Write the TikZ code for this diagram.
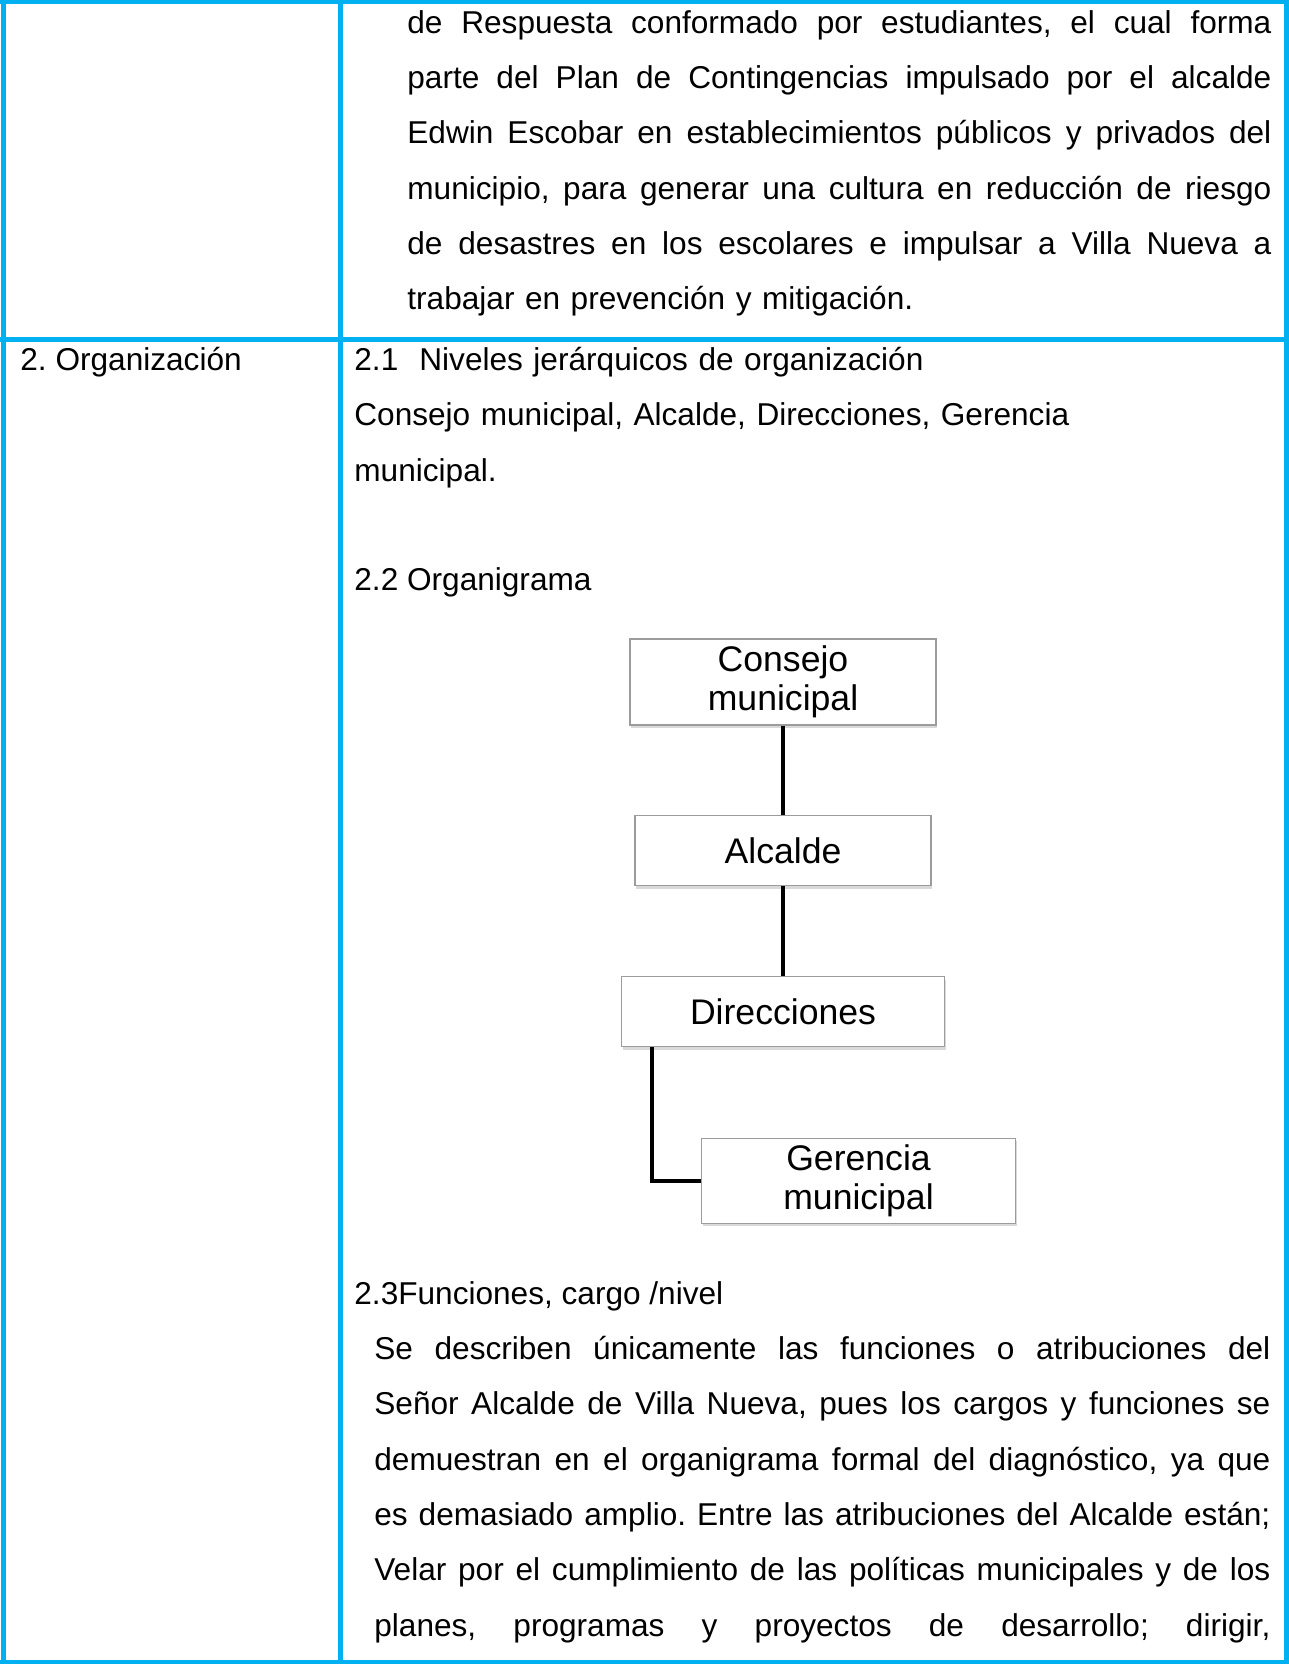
\documentclass[tikz,border=0pt]{standalone}
\usepackage{fontspec}
\setmainfont{Liberation Sans}
\usetikzlibrary{positioning,shadows}
\definecolor{tableblue}{HTML}{00B0F0}
\definecolor{boxgray}{HTML}{9C9C9C}
\frenchspacing
\newcommand{\jline}[2][432pt]{\leavevmode\hbox to #1{\spaceskip=0.278em plus 1fil\relax #2}}

\begin{document}
\begin{tikzpicture}[x=0.5pt,y=-0.5pt,
  grid/.style={tableblue,line width=2.5pt},
  txt/.style={font=\fontsize{15.8}{27.65}\selectfont,inner sep=0pt,anchor=base west,align=left},
  para/.style={txt,text width=#1},
  org box/.style={draw=boxgray,line width=0.6pt,fill=white,inner sep=0pt,align=center,
    font=\fontsize{17.8}{19.6}\selectfont,
    drop shadow={shadow xshift=0.6pt,shadow yshift=-1.6pt,opacity=.3,fill=gray}},
  conn/.style={line width=2pt}]

  \useasboundingbox (0,0) rectangle (1289,1664);

  % table
  \draw[grid] (0,2) -- (1289,2) (0,339) -- (1289,339) (0,1662) -- (1289,1662);
  \draw[grid] (3,0) -- (3,1664) (340,0) -- (340,1664) (1286,0) -- (1286,1664);

  \node[para=432pt] (respuesta) at (407,33.3) {%
    \jline{de Respuesta conformado por estudiantes, el cual forma}\\
    \jline{parte del Plan de Contingencias impulsado por el alcalde}\\
    \jline{Edwin Escobar en establecimientos públicos y privados del}\\
    \jline{municipio, para generar una cultura en reducción de riesgo}\\
    \jline{de desastres en los escolares e impulsar a Villa Nueva a}\\
    trabajar en prevención y mitigación.};

  \node[txt] (organizacion) at (20,370.5) {2. Organización};

  \node[para=460pt] (niveles) at (354,370.5) {2.1~~Niveles jerárquicos de organización\\
    Consejo municipal, Alcalde, Direcciones, Gerencia\\
    municipal.};
  \node[txt] (organigrama) at (354,590) {2.2 Organigrama};

  % organigrama
  \node[org box,minimum width=153pt,minimum height=43pt] (consejo) at (783,682) {Consejo\\municipal};
  \node[org box,minimum width=148pt,minimum height=35pt,below=44.8pt of consejo] (alcalde) {Alcalde};
  \node[org box,minimum width=161.5pt,minimum height=35pt,below=44.8pt of alcalde] (direcciones) {Direcciones};
  \node[org box,minimum width=157pt,minimum height=42.5pt,below=45.2pt of direcciones,xshift=37.75pt] (gerencia) {Gerencia\\municipal};

  \draw[conn] (consejo) -- (alcalde);
  \draw[conn] (alcalde) -- (direcciones);
  \draw[conn] (direcciones.south west) ++(15.5pt,0) |- (gerencia.west);

  \node[txt] (funciones) at (354,1304) {2.3Funciones, cargo /nivel};

  \node[para=448pt] (atribuciones) at (374,1359.5) {%
    \jline[448pt]{Se describen únicamente las funciones o atribuciones del}\\
    \jline[448pt]{Señor Alcalde de Villa Nueva, pues los cargos y funciones se}\\
    \jline[448pt]{demuestran en el organigrama formal del diagnóstico, ya que}\\
    \jline[448pt]{es demasiado amplio. Entre las atribuciones del Alcalde están;}\\
    \jline[448pt]{Velar por el cumplimiento de las políticas municipales y de los}\\
    \jline[448pt]{planes, programas y proyectos de desarrollo; dirigir,}};
\end{tikzpicture}
\end{document}
